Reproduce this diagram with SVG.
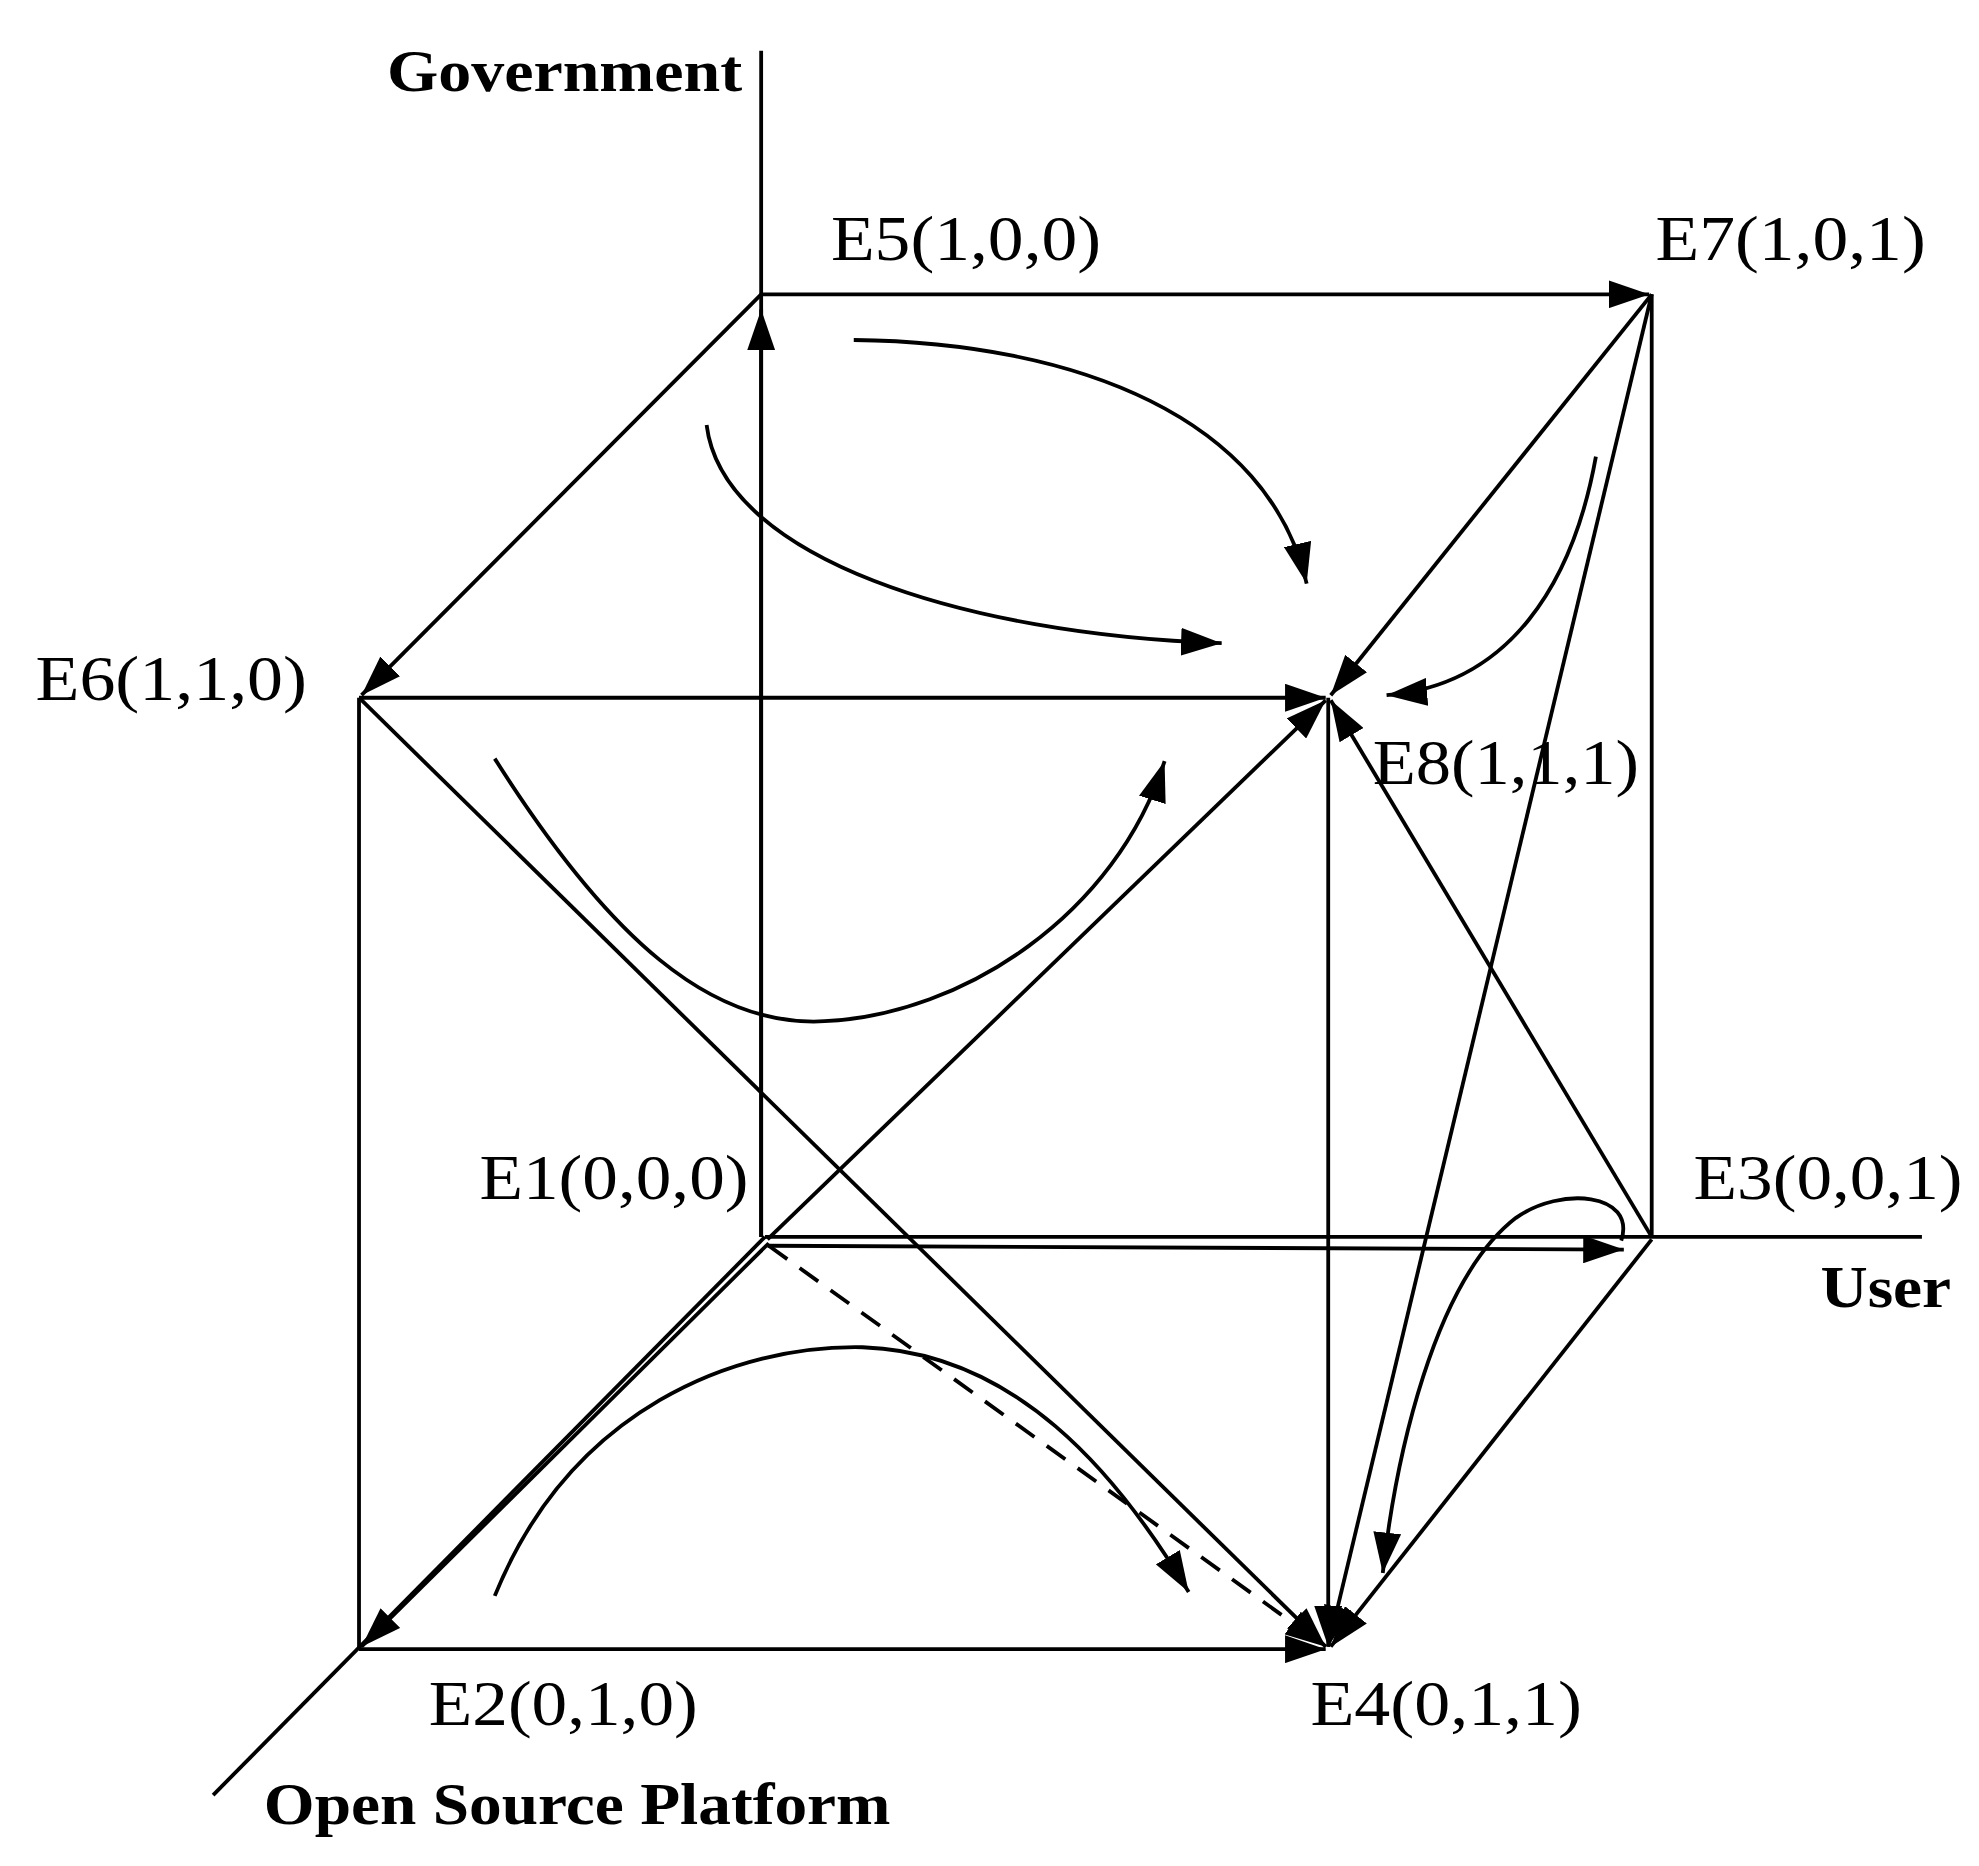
<svg xmlns="http://www.w3.org/2000/svg" width="1979" height="1866" viewBox="0 0 1979 1866">
<style>
.e{fill:none;stroke:#000;stroke-width:3}
.a{marker-end:url(#ah)}
.t{font-family:"Liberation Serif",serif;font-size:50px;fill:#000}
.b{font-family:"Liberation Serif",serif;font-size:46px;font-weight:bold;fill:#000}
</style>
<defs>
<marker id="ah" markerUnits="userSpaceOnUse" markerWidth="32" markerHeight="22" refX="32" refY="11" orient="auto"><path d="M0,0 L32,11 L0,22 z" fill="#000"/></marker>
</defs>
<rect width="1979" height="1866" fill="#fff"/>
<g transform="scale(1.2686)">
<g id="connectors">
<line class="e" x1="600" y1="40" x2="600" y2="975"/>
<line class="e" x1="603" y1="975" x2="1515" y2="975"/>
<line class="e" x1="603" y1="975" x2="168" y2="1415"/>
<line class="e a" x1="600" y1="975" x2="600" y2="244"/>
<line class="e a" x1="600" y1="232" x2="1300" y2="232"/>
<line class="e a" x1="600" y1="232" x2="285" y2="548"/>
<line class="e a" x1="283" y1="550" x2="1045" y2="550"/>
<line class="e" x1="283" y1="550" x2="283" y2="1300"/>
<line class="e a" x1="283" y1="550" x2="1045" y2="1298"/>
<line class="e a" x1="1302" y1="232" x2="1049" y2="548"/>
<line class="e" x1="1302" y1="232" x2="1302" y2="975"/>
<line class="e a" x1="1302" y1="232" x2="1047" y2="1298"/>
<line class="e a" x1="1047" y1="550" x2="1047" y2="1298"/>
<line class="e a" x1="1302" y1="975" x2="1049" y2="552"/>
<line class="e a" x1="605" y1="977" x2="1045" y2="552"/>
<line class="e a" x1="605" y1="982" x2="1280" y2="985"/>
<line class="e a" x1="606" y1="980" x2="285" y2="1298"/>
<line class="e a" x1="283" y1="1300" x2="1045" y2="1300"/>
<line class="e a" x1="1302" y1="977" x2="1049" y2="1298"/>
<line class="e a" x1="606" y1="982" x2="1045" y2="1298" stroke-dasharray="18,12"/>
<path class="e a" d="M673,268 C850,270 1000,330 1030,460"/>
<path class="e a" d="M557,335 C570,440 760,500 963,507"/>
<path class="e a" d="M390,598 C480,740 560,810 650,805 C760,800 880,720 918,600"/>
<path class="e a" d="M1258,360 C1240,460 1190,540 1093,548"/>
<path class="e a" d="M1278,978 C1290,940 1230,935 1195,960 C1130,1010 1100,1150 1090,1240"/>
<path class="e a" d="M390,1258 C450,1110 580,1060 680,1062 C800,1066 880,1160 937,1255"/>
</g>
<g id="E1"><text class="t" x="378" y="945" textLength="212" lengthAdjust="spacingAndGlyphs">E1(0,0,0)</text></g>
<g id="E2"><text class="t" x="338" y="1360" textLength="212" lengthAdjust="spacingAndGlyphs">E2(0,1,0)</text></g>
<g id="E3"><text class="t" x="1335" y="945" textLength="212" lengthAdjust="spacingAndGlyphs">E3(0,0,1)</text></g>
<g id="E4"><text class="t" x="1033" y="1360" textLength="214" lengthAdjust="spacingAndGlyphs">E4(0,1,1)</text></g>
<g id="E5"><text class="t" x="655" y="205" textLength="213" lengthAdjust="spacingAndGlyphs">E5(1,0,0)</text></g>
<g id="E6"><text class="t" x="28" y="552" textLength="214" lengthAdjust="spacingAndGlyphs">E6(1,1,0)</text></g>
<g id="E7"><text class="t" x="1305" y="205" textLength="213" lengthAdjust="spacingAndGlyphs">E7(1,0,1)</text></g>
<g id="E8"><text class="t" x="1082" y="618" textLength="210" lengthAdjust="spacingAndGlyphs">E8(1,1,1)</text></g>
<g id="axis-government"><text class="b" x="305" y="72" textLength="280" lengthAdjust="spacingAndGlyphs">Government</text></g>
<g id="axis-user"><text class="b" x="1435" y="1030" textLength="103" lengthAdjust="spacingAndGlyphs">User</text></g>
<g id="axis-platform"><text class="b" x="208" y="1438" textLength="494" lengthAdjust="spacingAndGlyphs">Open Source Platform</text></g>
</g>
</svg>
